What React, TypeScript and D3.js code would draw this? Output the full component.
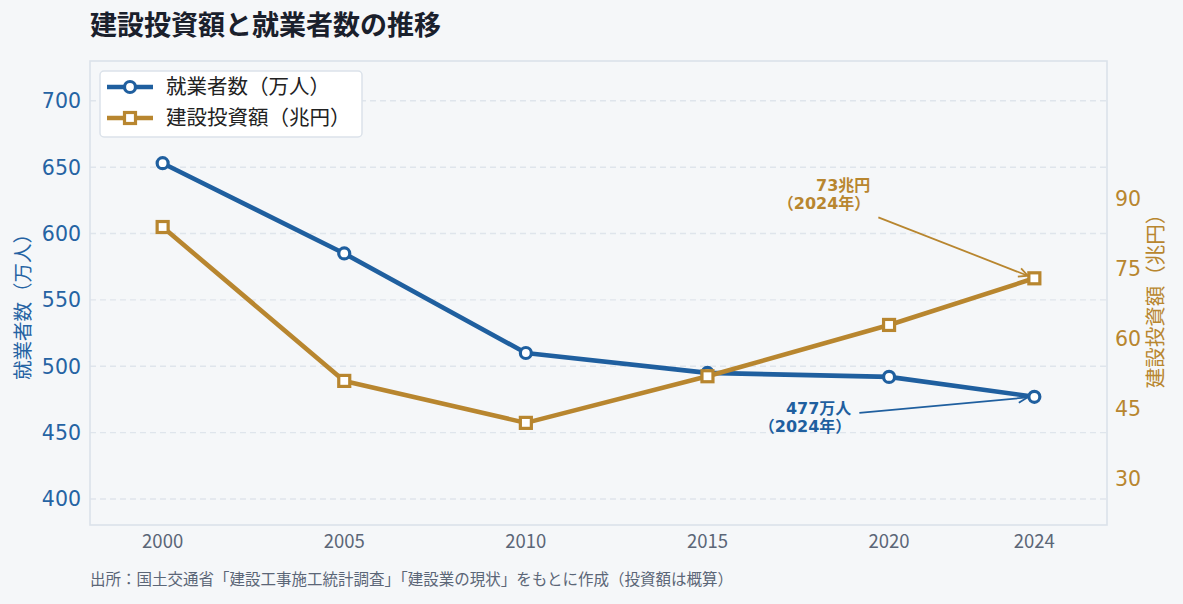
import React from 'react';
import * as d3 from 'd3';

// Construction investment vs. construction workforce, 2000–2024
const years = [2000, 2005, 2010, 2015, 2020, 2024];
const workers = [653, 585, 510, 495, 492, 477]; // 万人
const investment = [84, 51, 42, 52, 63, 73]; // 兆円

const leftTicks = [400, 450, 500, 550, 600, 650, 700];
const rightTicks = [30, 45, 60, 75, 90];

const W = 1183;
const H = 604;
const margin = { top: 61, right: 76, bottom: 79, left: 90 };

const BLUE = '#1f5f9f';
const GOLD = '#b8862f';
const BG = '#f5f7f9';
const FRAME = '#dbe2ea';
const GRID = '#dfe5ec';
const CJK = '"Noto Sans CJK JP", "Noto Sans", sans-serif';
const NUM = '"DejaVu Sans", "Noto Sans CJK JP", sans-serif';

export default function App() {
  const x0 = margin.left;
  const x1 = W - margin.right;
  const y0 = H - margin.bottom;
  const y1 = margin.top;

  const x = d3.scaleLinear().domain([1998, 2026]).range([x0, x1]);
  const yL = d3.scaleLinear().domain([380.4, 730]).range([y0, y1]);
  const yR = d3.scaleLinear().domain([20.1, 119.6]).range([y0, y1]);

  const workerPts = years.map((yr, i) => [x(yr), yL(workers[i])] as [number, number]);
  const investPts = years.map((yr, i) => [x(yr), yR(investment[i])] as [number, number]);
  const line = d3.line();

  const lastW = workerPts[workerPts.length - 1];
  const lastI = investPts[investPts.length - 1];

  // shorten an arrow so its tip stops at the marker edge
  const shrink = (from: number[], to: number[], by: number) => {
    const dx = to[0] - from[0];
    const dy = to[1] - from[1];
    const len = Math.hypot(dx, dy);
    return [to[0] - (dx / len) * by, to[1] - (dy / len) * by];
  };

  const goldTail = [lastI[0] - 156, lastI[1] - 61];
  const goldHead = shrink(goldTail, lastI, 7);
  const blueTail = [lastW[0] - 175, lastW[1] + 16];
  const blueHead = shrink(blueTail, lastW, 7);

  const circle = (p: number[], key: string | number) => (
    <circle key={key} cx={p[0]} cy={p[1]} r={5.5} fill="#fff" stroke={BLUE} strokeWidth={3.2} />
  );
  const square = (p: number[], key: string | number) => (
    <rect key={key} x={p[0] - 5.5} y={p[1] - 5.5} width={11} height={11} fill="#fff" stroke={GOLD} strokeWidth={3.2} />
  );

  return (
    <div style={{ position: 'fixed', left: 0, top: 0, width: W, height: H, background: BG }}>
      <svg width={W} height={H} style={{ display: 'block' }}>
        <defs>
          <marker id="headBlue" viewBox="-10 -6 12 12" refX={0} refY={0} markerWidth={12} markerHeight={12} markerUnits="userSpaceOnUse" orient="auto">
            <path d="M-9,-4.5 L0,0 L-9,4.5" fill="none" stroke={BLUE} strokeWidth={1.8} />
          </marker>
          <marker id="headGold" viewBox="-10 -6 12 12" refX={0} refY={0} markerWidth={12} markerHeight={12} markerUnits="userSpaceOnUse" orient="auto">
            <path d="M-9,-4.5 L0,0 L-9,4.5" fill="none" stroke={GOLD} strokeWidth={1.8} />
          </marker>
        </defs>
        <rect width={W} height={H} fill={BG} />

        {/* title */}
        <text x={90} y={35} fontFamily={CJK} fontSize={27} fontWeight={700} fill="#1a202c">
          建設投資額と就業者数の推移
        </text>

        {/* grid */}
        {leftTicks.map(t => (
          <line key={t} x1={x0} x2={x1} y1={yL(t)} y2={yL(t)} stroke={GRID} strokeWidth={1.4} strokeDasharray="6 4" />
        ))}

        {/* frame */}
        <rect x={x0} y={y1} width={x1 - x0} height={y0 - y1} fill="none" stroke={FRAME} strokeWidth={1.6} />

        {/* left axis */}
        {leftTicks.map(t => (
          <text key={t} x={81} y={yL(t)} dy="0.36em" textAnchor="end" fontFamily={NUM} fontSize={20.5} fill="#2563a3">
            {t}
          </text>
        ))}
        <text transform={`translate(30,302) rotate(-90)`} textAnchor="middle" fontFamily={CJK} fontSize={19.5} fill="#2563a3">
          就業者数（万人）
        </text>

        {/* right axis */}
        {rightTicks.map(t => (
          <text key={t} x={1115} y={yR(t)} dy="0.36em" textAnchor="start" fontFamily={NUM} fontSize={20.5} fill={GOLD}>
            {t}
          </text>
        ))}
        <text transform={`translate(1163,296) rotate(-90)`} textAnchor="middle" fontFamily={CJK} fontSize={20.5} fill={GOLD}>
          建設投資額（兆円）
        </text>

        {/* x axis */}
        {years.map(yr => (
          <text key={yr} x={x(yr)} y={548} textAnchor="middle" fontFamily={CJK} fontSize={18.5} fill="#5b6677">
            {yr}
          </text>
        ))}

        {/* series */}
        <path d={line(workerPts) ?? ''} fill="none" stroke={BLUE} strokeWidth={4.6} strokeLinejoin="round" />
        {workerPts.map((p, i) => circle(p, i))}
        <path d={line(investPts) ?? ''} fill="none" stroke={GOLD} strokeWidth={4.6} strokeLinejoin="round" />
        {investPts.map((p, i) => square(p, i))}

        {/* annotations */}
        <line x1={goldTail[0]} y1={goldTail[1]} x2={goldHead[0]} y2={goldHead[1]} stroke={GOLD} strokeWidth={1.8} markerEnd="url(#headGold)" />
        <text x={lastI[0] - 164} y={lastI[1] - 87} textAnchor="end" fontFamily={NUM} fontSize={16} fontWeight={700} fill={GOLD}>
          {investment[investment.length - 1]}兆円
        </text>
        <text x={lastI[0] - 164} y={lastI[1] - 69} textAnchor="end" fontFamily={NUM} fontSize={16} fontWeight={700} fill={GOLD}>
          （{years[years.length - 1]}年）
        </text>
        <line x1={blueTail[0]} y1={blueTail[1]} x2={blueHead[0]} y2={blueHead[1]} stroke={BLUE} strokeWidth={1.8} markerEnd="url(#headBlue)" />
        <text x={lastW[0] - 183} y={lastW[1] + 17} textAnchor="end" fontFamily={NUM} fontSize={16} fontWeight={700} fill={BLUE}>
          {workers[workers.length - 1]}万人
        </text>
        <text x={lastW[0] - 183} y={lastW[1] + 35} textAnchor="end" fontFamily={NUM} fontSize={16} fontWeight={700} fill={BLUE}>
          （{years[years.length - 1]}年）
        </text>

        {/* legend */}
        <rect x={100} y={71} width={262} height={66} rx={4} fill="#fff" stroke={FRAME} strokeWidth={1.5} />
        <line x1={107} x2={153} y1={87} y2={87} stroke={BLUE} strokeWidth={4.6} />
        {circle([130, 87], 'lw')}
        <text x={166} y={87} dy="0.36em" fontFamily={CJK} fontSize={20.5} fill="#222">就業者数（万人）</text>
        <line x1={107} x2={153} y1={118} y2={118} stroke={GOLD} strokeWidth={4.6} />
        {square([130, 118], 'li')}
        <text x={166} y={118} dy="0.36em" fontFamily={CJK} fontSize={20.5} fill="#222">建設投資額（兆円）</text>

        {/* source */}
        <text x={90} y={585} fontFamily={CJK} fontSize={15.5} fill="#5b6677">
          出所：国土交通省「建設工事施工統計調査」「建設業の現状」をもとに作成（投資額は概算）
        </text>
      </svg>
    </div>
  );
}
